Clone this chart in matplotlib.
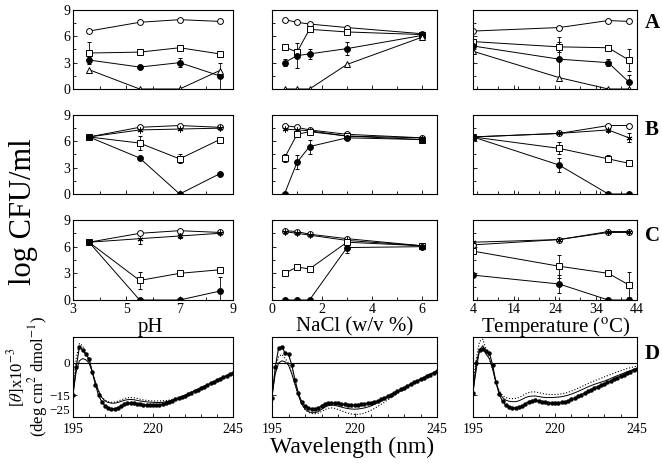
import matplotlib.pyplot as plt
from matplotlib.ticker import MultipleLocator

plt.rcParams['font.family'] = ['Liberation Serif', 'DejaVu Serif']
plt.rcParams['mathtext.fontset'] = 'stix'

# x values of the survival panels
ph = [3.6, 5.5, 7.0, 8.5]
nacl = [0.5, 1.0, 1.5, 3.0, 6.0]
temp = [4, 25, 37, 42]

# ---- row A (log CFU/ml) ----
ph_A_circle = [6.6, 7.6, 7.9, 7.7]
ph_A_square = [4.1, 4.2, 4.7, 4.0]
ph_A_square_err = [1.3, 0.3, 0.2, 0.0]
ph_A_filled = [3.3, 2.5, 3.0, 1.5]
ph_A_filled_err = [0.3, 0.2, 0.5, 1.5]
ph_A_triangle = [2.2, 0.0, 0.0, 2.1]

nacl_A_circle = [7.9, 7.6, 7.4, 7.0, 6.3]
nacl_A_square = [4.8, 4.2, 6.8, 6.5, 6.2]
nacl_A_filled = [3.0, 3.8, 4.0, 4.6, 6.1]
nacl_A_filled_err = [0.4, 1.4, 0.6, 0.7, 0.1]
nacl_A_triangle = [0.0, 0.0, 0.0, 2.8, 5.9]

temp_A_circle = [6.6, 7.0, 7.8, 7.7]
temp_A_square = [5.4, 4.8, 4.7, 3.3]
temp_A_square_err = [0.2, 0.6, 0.2, 1.3]
temp_A_filled = [4.9, 3.4, 3.0, 0.8]
temp_A_filled_err = [0.2, 2.5, 0.4, 0.8]
temp_A_triangle = [4.3, 1.3, 0.0, 0.0]

# ---- row B ----
ph_B_circle = [6.5, 7.6, 7.8, 7.6]
ph_B_star = [6.5, 7.3, 7.4, 7.5]
ph_B_square = [6.5, 5.8, 4.0, 6.2]
ph_B_square_err = [0.1, 0.8, 0.5, 0.2]
ph_B_filled = [6.5, 4.1, 0.0, 2.3]

nacl_B_circle = [7.8, 7.6, 7.3, 6.8, 6.4]
nacl_B_star = [7.4, 7.3, 7.2, 6.6, 6.4]
nacl_B_square = [4.1, 6.8, 7.1, 6.6, 6.2]
nacl_B_square_err = [0.5, 0.3, 0.2, 0.3, 0.2]
nacl_B_filled = [0.0, 3.6, 5.4, 6.4, 6.2]
nacl_B_filled_err = [0.0, 0.8, 0.8, 0.3, 0.2]

temp_B_circle = [6.5, 6.9, 7.8, 7.8]
temp_B_star = [6.5, 6.9, 7.3, 6.4]
temp_B_star_err = [0.0, 0.2, 0.2, 0.5]
temp_B_square = [6.5, 5.2, 4.0, 3.5]
temp_B_square_err = [0.0, 0.7, 0.4, 0.1]
temp_B_filled = [6.5, 3.3, 0.0, 0.0]
temp_B_filled_err = [0.0, 0.8, 0.0, 0.0]

# ---- row C ----
ph_C_circle = [6.5, 7.5, 7.8, 7.6]
ph_C_star = [6.5, 6.9, 7.2, 7.5]
ph_C_star_err = [0.1, 0.6, 0.2, 0.1]
ph_C_square = [6.5, 2.2, 3.0, 3.4]
ph_C_square_err = [0.1, 1.0, 0.1, 0.1]
ph_C_filled = [6.5, 0.0, 0.0, 1.0]
ph_C_filled_err = [0.0, 0.0, 0.0, 1.6]

nacl_C_circle = [7.8, 7.7, 7.4, 6.9, 6.1]
nacl_C_star = [7.7, 7.5, 7.3, 6.7, 6.1]
nacl_C_square = [3.0, 3.7, 3.5, 6.5, 6.1]
nacl_C_filled = [0.0, 0.0, 0.0, 5.9, 6.0]
nacl_C_filled_err = [0.0, 0.0, 0.0, 0.6, 0.1]

temp_C_circle = [6.2, 6.8, 7.7, 7.7]
temp_C_star = [6.5, 6.8, 7.6, 7.6]
temp_C_square = [5.5, 3.8, 3.0, 1.7]
temp_C_square_err = [0.2, 1.3, 0.1, 1.4]
temp_C_filled = [2.8, 1.8, 0.0, 0.0]
temp_C_filled_err = [0.1, 1.0, 0.0, 0.0]

# ---- row D (CD spectra, [theta] x 10^-3) ----
wavelength = list(range(195, 246))

ph_D_dots = [-15, -2, 7.5, 6, 4, 2, -4, -10, -15, -18, -19.8, -20.8, -21.2, -21.2, -20.8, -20,
             -19.2, -18.7, -18.5, -18.6, -18.9, -19.2, -19.4, -19.5, -19.6, -19.6, -19.5, -19.3,
             -19.0, -18.6, -18.1, -17.5, -16.9, -16.3, -15.7, -15.1, -14.4, -13.7, -13.0, -12.3,
             -11.6, -10.9, -10.2, -9.5, -8.8, -8.1, -7.4, -6.7, -6.0, -5.3, -4.7]
ph_D_solid = [-14, -4, 1, 2, 1.5, 0, -4, -9, -13, -16, -17.5, -18.3, -18.6, -18.6, -18.3, -17.8,
              -17.3, -17.0, -16.9, -17.0, -17.3, -17.6, -17.8, -18.0, -18.1, -18.2, -18.3, -18.3,
              -18.2, -18.0, -17.6, -17.2, -16.8, -16.2, -15.6, -15.0, -14.3, -13.6, -12.9, -12.2,
              -11.5, -10.8, -10.1, -9.4, -8.7, -8.0, -7.3, -6.6, -5.9, -5.2, -4.6]
ph_D_dotted = [-13, 2, 9, 8, 4, 1, -4, -9, -13, -15.8, -17.2, -17.9, -18.2, -18.1, -17.7, -17.1,
               -16.5, -16.1, -16.0, -16.1, -16.4, -16.8, -17.1, -17.3, -17.5, -17.6, -17.6, -17.6,
               -17.5, -17.4, -17.2, -16.9, -16.6, -16.1, -15.5, -14.9, -14.2, -13.5, -12.8, -12.1,
               -11.4, -10.7, -10.0, -9.3, -8.6, -7.9, -7.2, -6.5, -5.8, -5.1, -4.5]

nacl_D_dots = [-16, -2, 7, 7.5, 4.5, 4, -1, -8, -14, -18, -20, -21, -21.3, -21.3, -20.8, -19.8,
               -19.0, -18.5, -18.3, -18.4, -18.7, -19.0, -19.2, -19.3, -19.4, -19.4, -19.3, -19.2,
               -19.0, -18.7, -18.4, -18.0, -17.5, -16.9, -16.2, -15.4, -14.6, -13.8, -13.0, -12.2,
               -11.4, -10.6, -9.8, -9.0, -8.3, -7.6, -6.9, -6.2, -5.5, -4.8, -3.6]
nacl_D_solid = [-15, -5, 0, 1, 0.5, -1, -5, -10, -15, -19, -21.3, -22.5, -23, -23, -22.5, -21.5,
                -20.5, -19.8, -19.5, -19.6, -20.0, -20.4, -20.8, -21.1, -21.3, -21.4, -21.3, -21.1,
                -20.8, -20.4, -19.9, -19.2, -18.4, -17.6, -16.8, -16.0, -15.2, -14.4, -13.6, -12.8,
                -12.0, -11.1, -10.2, -9.3, -8.4, -7.5, -6.7, -5.9, -5.1, -4.4, -3.8]
nacl_D_dotted = [-15, -3, 3, 4, 2, 0, -5, -10, -15, -19, -21.5, -22.8, -23.4, -23.5, -23.2, -22.5,
                 -21.6, -21.0, -20.8, -21.0, -21.5, -22.1, -22.7, -23.2, -23.6, -23.8, -23.8, -23.6,
                 -23.2, -22.6, -21.9, -21.1, -20.2, -19.2, -18.2, -17.2, -16.2, -15.2, -14.2, -13.2,
                 -12.2, -11.2, -10.2, -9.2, -8.3, -7.4, -6.6, -5.8, -5.0, -4.3, -3.7]

temp_D_dots = [-14, 0, 6, 6.5, 5.5, 4.5, -1, -9, -14.5, -17.8, -19.5, -20.4, -20.8, -20.9, -20.6,
               -19.8, -18.8, -17.9, -17.4, -17.3, -17.5, -17.9, -18.2, -18.4, -18.5, -18.5, -18.4,
               -18.2, -17.9, -17.5, -16.9, -16.2, -15.5, -14.7, -13.9, -13.1, -12.3, -11.5, -10.9,
               -10.3, -9.7, -9.0, -8.3, -7.5, -6.8, -6.1, -5.4, -4.7, -4.0, -3.4, -2.8]
temp_D_solid = [-13, -3, 6, 8, 4, 2, -3, -9, -13.5, -16, -17.2, -17.7, -17.9, -17.9, -17.5, -16.8,
                -16.0, -15.5, -15.3, -15.3, -15.5, -15.8, -16.0, -16.0, -16.0, -15.9, -15.8, -15.6,
                -15.3, -14.9, -14.4, -13.8, -13.2, -12.5, -11.8, -11.1, -10.5, -9.9, -9.4, -8.9,
                -8.4, -7.8, -7.2, -6.5, -5.9, -5.3, -4.7, -4.1, -3.5, -3.0, -2.5]
temp_D_dotted = [-10, 2, 10, 11, 6, 2, -3, -9, -13, -15, -16, -16.4, -16.5, -16.4, -16.0, -15.2,
                 -14.3, -13.7, -13.4, -13.4, -13.7, -14.1, -14.4, -14.6, -14.6, -14.6, -14.5, -14.3,
                 -14.0, -13.6, -13.0, -12.4, -11.7, -11.0, -10.3, -9.6, -8.9, -8.3, -7.7, -7.1,
                 -6.5, -5.9, -5.3, -4.7, -4.1, -3.6, -3.1, -2.6, -2.2, -1.8, -1.5]

W, H = 662, 465
fig = plt.figure(figsize=(W / 100, H / 100), dpi=100)


def add_px_axes(left, top, right, bottom):
    # axes placed by pixel edges of the reference
    return fig.add_axes([left / W, 1 - bottom / H, (right - left) / W, (bottom - top) / H])


def style(ax):
    for sp in ax.spines.values():
        sp.set_linewidth(0.8)
    ax.tick_params(which='both', direction='in', labelsize=10, width=0.6, pad=2)
    ax.tick_params(which='major', length=3)
    ax.tick_params(which='minor', length=2)


def series(ax, x, y, marker, face, err=None):
    ax.errorbar(x, y, yerr=err, color='k', lw=0.7, marker=marker, ms=4.2,
                mfc=face, mec='k', mew=0.7, capsize=1.5, elinewidth=0.6, capthick=0.6)


col_left = [73, 272, 473]
col_right = [233, 437, 637]
row_top = [10, 115, 220]
row_bottom = [89, 194, 300]

star = (6, 2, 0)

rows = [
    [
        [(ph, ph_A_circle, 'o', 'white', None), (ph, ph_A_square, 's', 'white', ph_A_square_err),
         (ph, ph_A_filled, 'o', 'k', ph_A_filled_err), (ph, ph_A_triangle, '^', 'white', None)],
        [(nacl, nacl_A_circle, 'o', 'white', None), (nacl, nacl_A_square, 's', 'white', None),
         (nacl, nacl_A_filled, 'o', 'k', nacl_A_filled_err), (nacl, nacl_A_triangle, '^', 'white', None)],
        [(temp, temp_A_circle, 'o', 'white', None), (temp, temp_A_square, 's', 'white', temp_A_square_err),
         (temp, temp_A_filled, 'o', 'k', temp_A_filled_err), (temp, temp_A_triangle, '^', 'white', None)],
    ],
    [
        [(ph, ph_B_circle, 'o', 'white', None), (ph, ph_B_star, star, 'k', None),
         (ph, ph_B_square, 's', 'white', ph_B_square_err), (ph, ph_B_filled, 'o', 'k', None)],
        [(nacl, nacl_B_circle, 'o', 'white', None), (nacl, nacl_B_star, star, 'k', None),
         (nacl, nacl_B_square, 's', 'white', nacl_B_square_err),
         (nacl, nacl_B_filled, 'o', 'k', nacl_B_filled_err)],
        [(temp, temp_B_circle, 'o', 'white', None), (temp, temp_B_star, star, 'k', temp_B_star_err),
         (temp, temp_B_square, 's', 'white', temp_B_square_err),
         (temp, temp_B_filled, 'o', 'k', temp_B_filled_err)],
    ],
    [
        [(ph, ph_C_circle, 'o', 'white', None), (ph, ph_C_star, star, 'k', ph_C_star_err),
         (ph, ph_C_square, 's', 'white', ph_C_square_err), (ph, ph_C_filled, 'o', 'k', ph_C_filled_err)],
        [(nacl, nacl_C_circle, 'o', 'white', None), (nacl, nacl_C_star, star, 'k', None),
         (nacl, nacl_C_square, 's', 'white', None), (nacl, nacl_C_filled, 'o', 'k', nacl_C_filled_err)],
        [(temp, temp_C_circle, 'o', 'white', None), (temp, temp_C_star, star, 'k', None),
         (temp, temp_C_square, 's', 'white', temp_C_square_err),
         (temp, temp_C_filled, 'o', 'k', temp_C_filled_err)],
    ],
]

x_limits = [(3, 9), (0, 6.6), (4, 44)]
x_ticks = [[3, 5, 7, 9], [0, 2, 4, 6], [4, 14, 24, 34, 44]]
x_minor = [1, 1, 5]

for r in range(3):
    for c in range(3):
        ax = add_px_axes(col_left[c], row_top[r], col_right[c], row_bottom[r])
        for x, y, m, face, err in rows[r][c]:
            series(ax, x, y, m, face, err)
        ax.set_xlim(x_limits[c])
        ax.set_ylim(0, 9)
        ax.set_xticks(x_ticks[c])
        ax.xaxis.set_minor_locator(MultipleLocator(x_minor[c]))
        ax.set_yticks([0, 3, 6, 9])
        ax.yaxis.set_minor_locator(MultipleLocator(1.5))
        style(ax)
        if c > 0:
            ax.set_yticklabels([])
        if r < 2:
            ax.set_xticklabels([])

# CD spectra
d_sets = [(ph_D_dots, ph_D_solid, ph_D_dotted),
          (nacl_D_dots, nacl_D_solid, nacl_D_dotted),
          (temp_D_dots, temp_D_solid, temp_D_dotted)]
for c in range(3):
    ax = add_px_axes(col_left[c], 337, col_right[c], 417)
    dots, solid, dotted = d_sets[c]
    ax.axhline(0, color='k', lw=0.8)
    ax.plot(wavelength, dotted, color='k', lw=0.8, ls=':')
    ax.plot(wavelength, solid, color='k', lw=0.7)
    ax.plot(wavelength, dots, color='k', lw=0.8, marker='o', ms=2.2)
    ax.set_xlim(195, 245)
    ax.set_ylim(-25, 12)
    ax.set_xticks([195, 220, 245])
    ax.xaxis.set_minor_locator(MultipleLocator(5))
    ax.set_yticks([-25, -15, 0])
    style(ax)
    ax.tick_params(axis='x', pad=4)
    ax.tick_params(axis='y', labelsize=9.5)
    if c > 0:
        ax.set_yticklabels([])
    else:
        # lift the lowest label a little so it clears the "195" below it
        ax.get_yticklabels()[0].set_verticalalignment('bottom')

# axis titles
fig.text(24 / W, 1 - 212 / H, 'log CFU/ml', rotation=90, ha='center', va='center', fontsize=22)
fig.text(150 / W, 1 - 327 / H, 'pH', ha='center', va='center', fontsize=15)
fig.text(355 / W, 1 - 327 / H, 'NaCl (w/v %)', ha='center', va='center', fontsize=15)
fig.text(556 / W, 1 - 327 / H, r'Temperature ($^{\rm o}$C)', ha='center', va='center', fontsize=15)
fig.text(352 / W, 1 - 447 / H, 'Wavelength (nm)', ha='center', va='center', fontsize=17)
fig.text(16 / W, 1 - 377 / H, r'[$\theta$]x10$^{-3}$', rotation=90, ha='center', va='center', fontsize=12)
fig.text(38 / W, 1 - 377 / H, r'(deg cm$^{2}$ dmol$^{-1}$)', rotation=90, ha='center', va='center',
         fontsize=12)

# panel letters
for letter, y in [('A', 23), ('B', 130), ('C', 236), ('D', 354)]:
    fig.text(652 / W, 1 - y / H, letter, ha='center', va='center', fontsize=15, fontweight='bold')

fig.savefig('out.png', dpi=100)
